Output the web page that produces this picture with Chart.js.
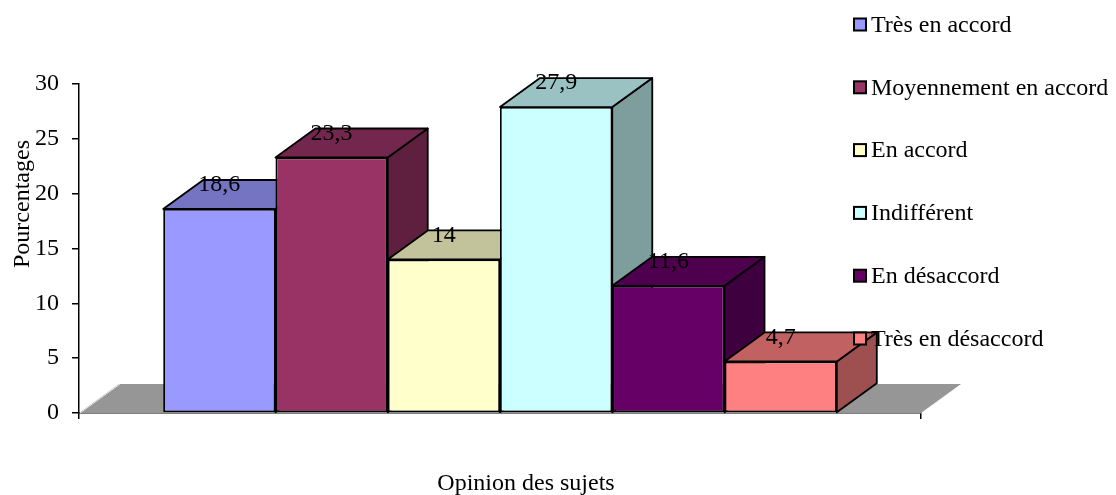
<!DOCTYPE html>
<html>
<head>
<meta charset="utf-8">
<script src="https://cdn.jsdelivr.net/npm/chart.js@4"></script>
<style>
  html, body { margin: 0; padding: 0; background: #ffffff; }
  #wrap { width: 1116px; height: 495px; }
</style>
</head>
<body>
<div id="wrap"><canvas id="chart" width="1116" height="495"></canvas></div>
<script>
// Survey answers (percentages), one 3D block per answer
const categories = ['Très en accord', 'Moyennement en accord', 'En accord', 'Indifférent', 'En désaccord', 'Très en désaccord'];
const percentages = [18.6, 23.3, 14, 27.9, 11.6, 4.7];
const frontColors = ['#9999FF', '#993366', '#FFFFCC', '#CCFFFF', '#660066', '#FF8080'];
const yTicks = [0, 5, 10, 15, 20, 25, 30];
const xTitle = 'Opinion des sujets';
const yTitle = 'Pourcentages';

const FONT = '"Liberation Serif", "Times New Roman", serif';
const FONT_SIZE = 24;
const DEPTH_X = 40;   // oblique depth of the blocks
const DEPTH_Y = -29;
const EDGE = 1.8;

function shade(hex, f) {
  const n = parseInt(hex.slice(1), 16);
  const r = Math.round(((n >> 16) & 255) * f);
  const g = Math.round(((n >> 8) & 255) * f);
  const b = Math.round((n & 255) * f);
  return `rgb(${r},${g},${b})`;
}

function poly(ctx, pts, fill) {
  ctx.beginPath();
  ctx.moveTo(pts[0][0], pts[0][1]);
  for (let i = 1; i < pts.length; i++) ctx.lineTo(pts[i][0], pts[i][1]);
  ctx.closePath();
  ctx.fillStyle = fill;
  ctx.fill();
  ctx.strokeStyle = '#000';
  ctx.lineWidth = EDGE;
  ctx.lineJoin = 'round';
  ctx.stroke();
}

// Floor, side and top faces behind the front faces drawn by the library
const depthPlugin = {
  id: 'depth',
  beforeDatasetsDraw(chart) {
    const ctx = chart.ctx;
    const a = chart.chartArea;
    const yScale = chart.scales.y;
    const base = yScale.getPixelForValue(0);
    ctx.save();
    // grey floor
    ctx.beginPath();
    ctx.moveTo(a.left, base);
    ctx.lineTo(a.right, base);
    ctx.lineTo(a.right + DEPTH_X, base + DEPTH_Y);
    ctx.lineTo(a.left + DEPTH_X, base + DEPTH_Y);
    ctx.closePath();
    ctx.fillStyle = '#969696';
    ctx.fill();
    ctx.strokeStyle = '#e8e8e8';
    ctx.lineWidth = 1;
    ctx.beginPath();
    ctx.moveTo(a.left + 1, base);
    ctx.lineTo(a.left + DEPTH_X + 1, base + DEPTH_Y);
    ctx.stroke();

    chart.data.datasets.forEach((ds, i) => {
      const bar = chart.getDatasetMeta(i).data[0];
      const p = bar.getProps(['x', 'y', 'base', 'width'], true);
      const l = p.x - p.width / 2, r = p.x + p.width / 2;
      const col = frontColors[i];
      // right side face
      poly(ctx, [[r, p.y], [r + DEPTH_X, p.y + DEPTH_Y], [r + DEPTH_X, p.base + DEPTH_Y], [r, p.base]], shade(col, 0.62));
      // top face
      poly(ctx, [[l, p.y], [r, p.y], [r + DEPTH_X, p.y + DEPTH_Y], [l + DEPTH_X, p.y + DEPTH_Y]], shade(col, 0.76));
    });
    ctx.restore();
  },
  afterDatasetsDraw(chart) {
    const ctx = chart.ctx;
    ctx.save();
    ctx.font = `${FONT_SIZE}px ${FONT}`;
    ctx.fillStyle = '#000';
    ctx.textAlign = 'center';
    ctx.textBaseline = 'middle';
    chart.data.datasets.forEach((ds, i) => {
      const bar = chart.getDatasetMeta(i).data[0];
      const v = ds.data[0];
      ctx.fillText(String(v).replace('.', ','), bar.x, bar.y - 24);
    });
    ctx.restore();
  },
  afterDraw(chart) {
    const ctx = chart.ctx;
    ctx.save();
    ctx.font = `${FONT_SIZE}px ${FONT}`;
    ctx.fillStyle = '#000';
    // legend
    ctx.textAlign = 'left';
    ctx.textBaseline = 'middle';
    chart.data.datasets.forEach((ds, i) => {
      const cy = 24.5 + i * 62.8;
      ctx.fillStyle = frontColors[i];
      ctx.fillRect(854, cy - 6, 12, 12);
      ctx.strokeStyle = '#000';
      ctx.lineWidth = 2;
      ctx.strokeRect(854, cy - 6, 12, 12);
      ctx.fillStyle = '#000';
      ctx.fillText(ds.label, 871, cy + 1);
    });
    // axis titles
    ctx.textAlign = 'center';
    ctx.fillText(xTitle, 526, 484);
    ctx.translate(23, 204);
    ctx.rotate(-Math.PI / 2);
    ctx.fillText(yTitle, 0, 0);
    ctx.restore();
  }
};

new Chart(document.getElementById('chart'), {
  type: 'bar',
  data: {
    labels: [''],
    datasets: categories.map((c, i) => ({
      label: c,
      data: [percentages[i]],
      backgroundColor: frontColors[i],
      borderColor: '#000',
      borderWidth: EDGE,
      borderSkipped: false
    }))
  },
  options: {
    responsive: false,
    animation: false,
    devicePixelRatio: 1,
    layout: { padding: { left: 0, right: 195, top: 84, bottom: 82 } },
    datasets: { bar: { categoryPercentage: 0.8, barPercentage: 1.0 } },
    plugins: { legend: { display: false }, tooltip: { enabled: false } },
    scales: {
      x: {
        ticks: { display: false },
        grid: { offset: true, drawOnChartArea: false, drawTicks: true, tickLength: 6, color: '#000', lineWidth: 1.5 },
        border: { display: true, color: '#000', width: 1.5 },
        afterFit(scale) { scale.height = 0; }
      },
      y: {
        min: 0,
        max: 30,
        afterBuildTicks(scale) { scale.ticks = yTicks.map(v => ({ value: v })); },
        ticks: { color: '#000', font: { family: FONT, size: FONT_SIZE }, padding: 13 },
        grid: { drawOnChartArea: false, drawTicks: true, tickLength: 7, color: '#000', lineWidth: 1.5 },
        border: { display: true, color: '#000', width: 1.5 },
        afterFit(scale) { scale.width = 79; }
      }
    }
  },
  plugins: [depthPlugin]
});
</script>
</body>
</html>
